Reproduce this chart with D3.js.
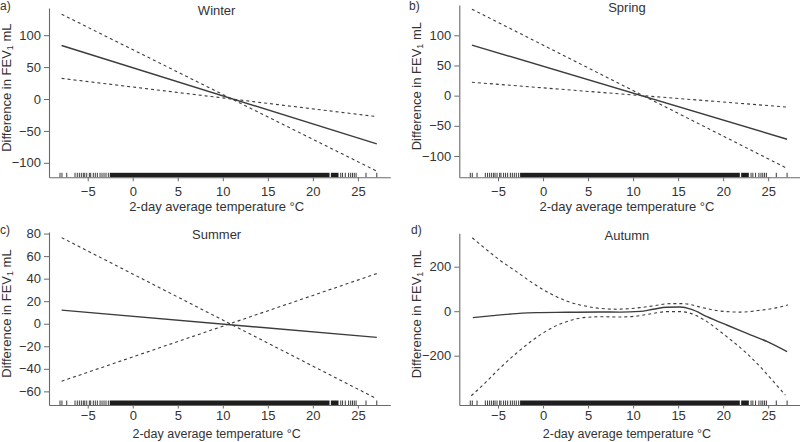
<!DOCTYPE html>
<html><head><meta charset="utf-8">
<script src="https://cdn.jsdelivr.net/npm/d3@7"></script>
<style>
html,body{margin:0;padding:0;background:#fff;}
svg{display:block;font-family:"Liberation Sans",Arial,sans-serif;}
</style></head>
<body><svg id="c" width="800" height="442"></svg>
<script>
// ---------- data ----------
const panelLabels = ["a)", "b)", "c)", "d)"];
const seasons = ["Winter", "Spring", "Summer", "Autumn"];
const xTicks = [-5, 0, 5, 10, 15, 20, 25];
const yTicksWinter = [-100, -50, 0, 50, 100];
const yTicksSpring = [-100, -50, 0, 50, 100];
const yTicksSummer = [-60, -40, -20, 0, 20, 40, 60, 80];
const yTicksAutumn = [-200, 0, 200];

// linear fits: [temperature, value]
const winterFit   = [[-7.9, 83.8], [27.1, -70.3]];
const winterUpper = [[-7.9, 132.8], [27.1, -113]];
const winterLower = [[-7.9, 32.3], [27.1, -27.6]];
const springFit   = [[-7.9, 83.8], [27.1, -72.2]];
const springUpper = [[-7.9, 143.3], [27.1, -120.5]];
const springLower = [[-7.9, 22.2], [27.1, -18.9]];
const summerFit   = [[-7.9, 12.1], [27.1, -12.1]];
const summerUpper = [[-7.9, 76.4], [27.1, -66.6]];
const summerLower = [[-7.9, -51], [27.1, 44.5]];
// autumn smooth
const autumnFit = [[-7.8,-29],[-5.57,-20],[-2.96,-11],[-0.73,-6.5],[2.6,-5],[6.3,-3.5],[8.54,-4],[10.77,-1],[12.25,9],[13.74,18],[15.22,19],[16.5,8],[18.2,-24],[20.4,-62],[22.65,-99.5],[24.9,-137],[27.1,-182]];
const autumnUpper = [[-7.86,330],[-6.68,290],[-4.82,230],[-2.96,178],[-1.1,125],[0.75,80],[2.6,46],[4.45,25],[6.3,13],[8.2,9],[10.77,16],[12.25,24],[14.1,34],[15.6,34],[17.4,19],[19.6,1],[21.9,-4],[24.1,4],[26,16],[27.2,28]];
const autumnLower = [[-7.97,-380],[-6.68,-332],[-4.82,-257],[-2.96,-189],[-1.1,-129],[0.75,-80],[2.6,-47],[4.45,-29],[6.3,-25],[8.54,-26],[10.77,-20],[12.25,-9.5],[13.74,-2],[15.22,-2],[16.7,-14],[18.2,-47],[19.6,-89],[21.1,-137],[22.6,-189],[24.1,-249],[25.6,-317],[26.9,-377]];

// rug of observed temperatures
const rugTicks = [-8.08,-7.86,-7.33,-6.41,-6.16,-5.93,-5.71,-5.49,-5.33,-5.11,-4.82,-4.67,-4.38,-4.16,-3.93,-3.63,-3.41,-3.19,-2.97,-2.71,23.1,23.3,23.6,23.97,24.2,24.4,24.6,24.8,25.9,27.1];
const rugBands = [[-2.55, 21.85], [22.0, 22.85]];

// ---------- layout ----------
const panels = [
  {label: panelLabels[0], title: seasons[0], lx: 0,   ly: 10,  x0: 49,    x1: 390.3, top: 8,     bottom: 177.3, xtPad: 5, xtSize: 4, xlOff: 34,   xlFont: 13,   yDom: [-122.7, 142.6], ticks: yTicksWinter, fit: winterFit, up: winterUpper, lo: winterLower, curve: d3.curveLinear},
  {label: panelLabels[1], title: seasons[1], lx: 409, ly: 10,  x0: 459.3, x1: 800.6, top: 5,     bottom: 177.3, xtPad: 5, xtSize: 4, xlOff: 34,   xlFont: 13,   yDom: [-135.3, 150.2], ticks: yTicksSpring, fit: springFit, up: springUpper, lo: springLower, curve: d3.curveLinear},
  {label: panelLabels[2], title: seasons[2], lx: 0,   ly: 234, x0: 49,    x1: 390.3, top: 232,   bottom: 405,   xtPad: 2, xtSize: 3.5, xlOff: 32.5, xlFont: 12.5, yDom: [-72.1, 81.4],   ticks: yTicksSummer, fit: summerFit, up: summerUpper, lo: summerLower, curve: d3.curveLinear},
  {label: panelLabels[3], title: seasons[3], lx: 411, ly: 234, x0: 459.3, x1: 800.6, top: 233.3, bottom: 405,   xtPad: 2, xtSize: 3.5, xlOff: 32.5, xlFont: 12.5, yDom: [-421.6, 350.1], ticks: yTicksAutumn, fit: autumnFit, up: autumnUpper, lo: autumnLower, curve: d3.curveMonotoneX}
];
const xDom = [-9.3, 28.6];
const textCol = "#333", axisCol = "#6a6a6a", lineCol = "#3c3c3c";

const svg = d3.select("#c");

panels.forEach(p => {
  const x = d3.scaleLinear().domain(xDom).range([p.x0, p.x1]);
  const y = d3.scaleLinear().domain(p.yDom).range([p.bottom, p.top]);
  const g = svg.append("g");

  // rug
  g.selectAll("line.rug").data(rugTicks).enter().append("line")
    .attr("x1", d => x(d)).attr("x2", d => x(d))
    .attr("y1", p.bottom - 4.5).attr("y2", p.bottom)
    .attr("stroke", "#222").attr("stroke-width", 0.9);
  g.selectAll("rect.rug").data(rugBands).enter().append("rect")
    .attr("x", d => x(d[0])).attr("width", d => x(d[1]) - x(d[0]))
    .attr("y", p.bottom - 4.5).attr("height", 4.5)
    .attr("fill", "#1e1e1e");

  // axes
  const ya = g.append("g").attr("transform", `translate(${p.x0},0)`)
    .call(d3.axisLeft(y).tickValues(p.ticks).tickSize(5).tickSizeOuter(0).tickPadding(3));
  const xa = g.append("g").attr("transform", `translate(0,${p.bottom})`)
    .call(d3.axisBottom(x).tickValues(xTicks).tickSize(p.xtSize).tickSizeOuter(0).tickPadding(p.xtPad));
  [ya, xa].forEach(a => {
    a.selectAll("path.domain").attr("stroke", axisCol).attr("stroke-width", 1.1);
    a.selectAll(".tick line").attr("stroke", axisCol).attr("stroke-width", 1);
    a.selectAll(".tick text").attr("fill", textCol).attr("font-size", 13)
      .attr("font-family", "Liberation Sans, Arial, sans-serif");
  });

  // curves
  const line = d3.line().x(d => x(d[0])).y(d => y(d[1])).curve(p.curve);
  g.append("path").attr("d", line(p.up)).attr("fill", "none")
    .attr("stroke", lineCol).attr("stroke-width", 1.1).attr("stroke-dasharray", "3,3");
  g.append("path").attr("d", line(p.lo)).attr("fill", "none")
    .attr("stroke", lineCol).attr("stroke-width", 1.1).attr("stroke-dasharray", "3,3");
  g.append("path").attr("d", line(p.fit)).attr("fill", "none")
    .attr("stroke", lineCol).attr("stroke-width", 1.4);

  // texts
  const cx = (p.x0 + Math.min(p.x1, p.x0 + 341.3)) / 2;
  g.append("text").attr("x", cx - 3)
    .attr("y", p.top + 6.5).attr("text-anchor", "middle")
    .attr("font-size", 13).attr("fill", textCol).text(p.title);
  g.append("text").attr("x", p.lx).attr("y", p.ly)
    .attr("font-size", 12).attr("fill", textCol).text(p.label);
  const yl = g.append("text")
    .attr("transform", `translate(${p.x0 - 38.5},${(p.top + p.bottom) / 2 - 5}) rotate(-90)`)
    .attr("text-anchor", "middle").attr("font-size", 13).attr("fill", textCol);
  yl.append("tspan").text("Difference in FEV");
  yl.append("tspan").attr("font-size", 9).attr("dy", 2.5).text("1");
  yl.append("tspan").attr("dy", -2.5).text(" mL");
  g.append("text").attr("x", cx - 3).attr("y", p.bottom + p.xlOff)
    .attr("text-anchor", "middle").attr("font-size", p.xlFont).attr("fill", textCol)
    .text("2-day average temperature °C");
});
</script>
</body></html>
